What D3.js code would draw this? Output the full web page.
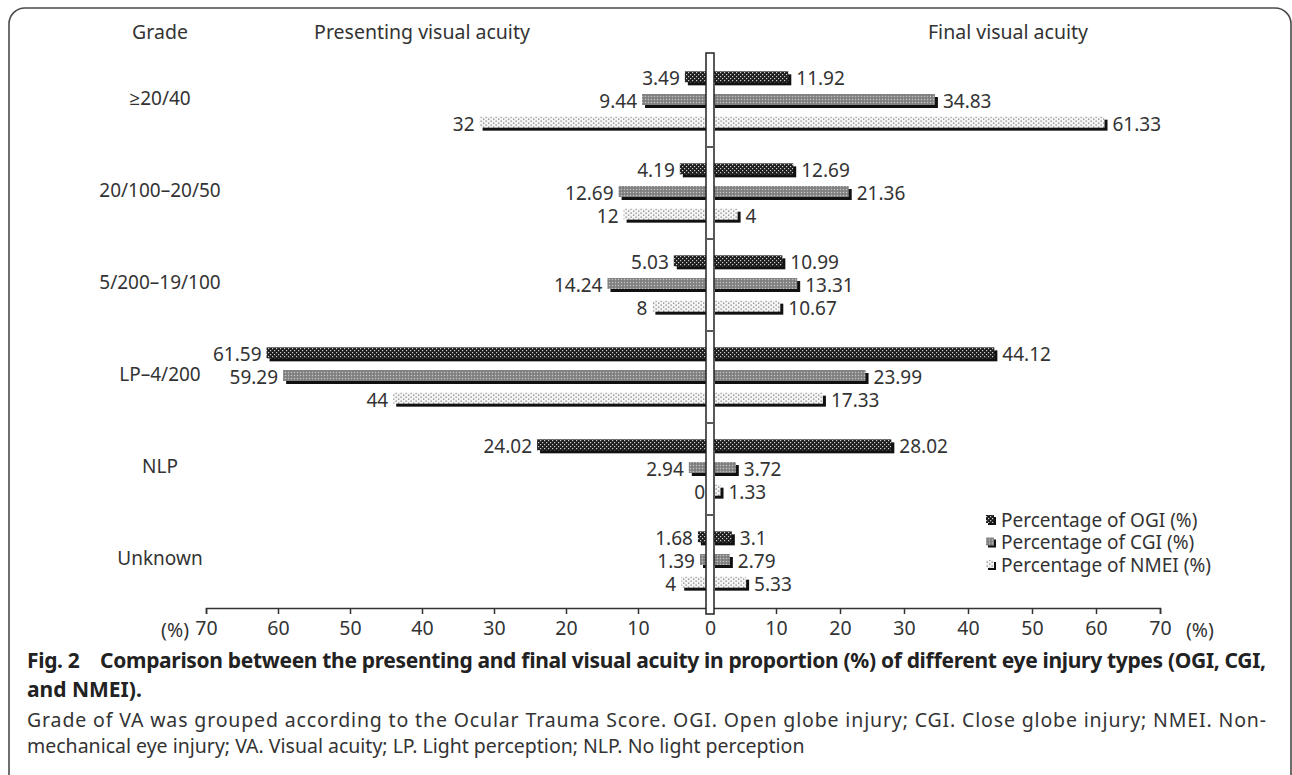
<!DOCTYPE html>
<html>
<head>
<meta charset="utf-8">
<script src="https://cdn.jsdelivr.net/npm/d3@7"></script>
<style>
  html, body { margin: 0; padding: 0; background: #fff; }
  body { width: 1292px; height: 775px; position: relative; overflow: hidden; font-family: "Noto Sans", "Open Sans", sans-serif; }
  #chart { position: absolute; left: 0; top: 0; }
</style>
</head>
<body>
<div id="chart"></div>
<script>
// Values (percent)
const categories = ["≥20/40", "20/100–20/50", "5/200–19/100", "LP–4/200", "NLP", "Unknown"]
const seriesKeys = ["OGI", "CGI", "NMEI"]
const legendLabels = ["Percentage of OGI (%)", "Percentage of CGI (%)", "Percentage of NMEI (%)"]

const presentingOGI = [3.49, 4.19, 5.03, 61.59, 24.02, 1.68]
const presentingCGI = [9.44, 12.69, 14.24, 59.29, 2.94, 1.39]
const presentingNMEI = [32, 12, 8, 44, 0, 4]

const finalOGI = [11.92, 12.69, 10.99, 44.12, 28.02, 3.1]
const finalCGI = [34.83, 21.36, 13.31, 23.99, 3.72, 2.79]
const finalNMEI = [61.33, 4, 10.67, 17.33, 1.33, 5.33]

const leftTicks = [70, 60, 50, 40, 30, 20, 10, 0]
const rightTicks = [10, 20, 30, 40, 50, 60, 70]

const captionBold = [
  "Fig. 2    Comparison between the presenting and final visual acuity in proportion (%) of different eye injury types (OGI, CGI,",
  "and NMEI)."
]
const captionNote = [
  "Grade of VA was grouped according to the Ocular Trauma Score. OGI. Open globe injury; CGI. Close globe injury; NMEI. Non-",
  "mechanical eye injury; VA. Visual acuity; LP. Light perception; NLP. No light perception"
]

const presenting = { OGI: presentingOGI, CGI: presentingCGI, NMEI: presentingNMEI }
const final = { OGI: finalOGI, CGI: finalCGI, NMEI: finalNMEI }

const W = 1292, H = 775
const axisY = 608
const fs = 19
const fontFam = "'Noto Sans', 'Open Sans', sans-serif"

const svg = d3.select("#chart").append("svg")
  .attr("width", W)
  .attr("height", H)
  .style("font-family", fontFam)

// Frame with rounded corners
svg.append("rect")
  .attr("x", 9).attr("y", 8)
  .attr("width", 1282).attr("height", 785)
  .attr("rx", 16).attr("ry", 16)
  .attr("fill", "none")
  .attr("stroke", "#4a4a4a")
  .attr("stroke-width", 1.6)

// Patterns
const defs = svg.append("defs")
const pOGI = defs.append("pattern").attr("id", "pat-OGI")
  .attr("patternUnits", "userSpaceOnUse").attr("width", 4).attr("height", 4)
pOGI.append("rect").attr("width", 4).attr("height", 4).attr("fill", "#1e1e1e")
pOGI.append("rect").attr("x", 0).attr("y", 0).attr("width", 1.2).attr("height", 1.2).attr("fill", "#cfcfcf")
pOGI.append("rect").attr("x", 2).attr("y", 2).attr("width", 1.2).attr("height", 1.2).attr("fill", "#cfcfcf")

const pCGI = defs.append("pattern").attr("id", "pat-CGI")
  .attr("patternUnits", "userSpaceOnUse").attr("width", 3).attr("height", 3)
pCGI.append("rect").attr("width", 3).attr("height", 3).attr("fill", "#8c8c8c")
pCGI.append("rect").attr("x", 0).attr("y", 0).attr("width", 1).attr("height", 1).attr("fill", "#c4c4c4")
pCGI.append("rect").attr("x", 1.5).attr("y", 1.5).attr("width", 1).attr("height", 1).attr("fill", "#5a5a5a")

const pNMEI = defs.append("pattern").attr("id", "pat-NMEI")
  .attr("patternUnits", "userSpaceOnUse").attr("width", 5).attr("height", 4)
pNMEI.append("rect").attr("width", 5).attr("height", 4).attr("fill", "#f4f4f4")
pNMEI.append("rect").attr("x", 0.5).attr("y", 0.5).attr("width", 1.3).attr("height", 1.3).attr("fill", "#8a8a8a")
pNMEI.append("rect").attr("x", 3).attr("y", 2.5).attr("width", 1.3).attr("height", 1.3).attr("fill", "#8a8a8a")

// Scales (the two halves use different px per unit, as in the figure)
const xLeft = d3.scaleLinear().domain([70, 0]).range([206, 710])
const xRight = d3.scaleLinear().domain([0, 70]).range([712, 1160])
const y = d3.scaleBand().domain(categories).range([55, 607]).padding(0)
const ySub = d3.scaleBand().domain(seriesKeys).range([-34, 34]).padding(0)
const barH = 11, shadow = 3

// Headers
const hdr = svg.append("g").attr("font-size", 19.5).attr("fill", "#333")
hdr.append("text").attr("x", 160).attr("y", 39).attr("text-anchor", "middle").text("Grade")
hdr.append("text").attr("x", 422).attr("y", 39).attr("text-anchor", "middle").text("Presenting visual acuity")
hdr.append("text").attr("x", 1008).attr("y", 39).attr("text-anchor", "middle").text("Final visual acuity")

// Category labels
svg.append("g").selectAll("text")
  .data(categories)
  .join("text")
  .attr("x", 160)
  .attr("y", d => y(d) + y.bandwidth() / 2 - 3)
  .attr("dy", "0.35em")
  .attr("text-anchor", "middle")
  .attr("font-size", fs)
  .attr("fill", "#333")
  .text(d => d)

// Build rows
const rows = []
categories.forEach((c, i) => {
  seriesKeys.forEach(k => {
    rows.push({ cat: c, key: k, side: "L", v: presenting[k][i] })
    rows.push({ cat: c, key: k, side: "R", v: final[k][i] })
  })
})
const barTop = d => y(d.cat) + y.bandwidth() / 2 + ySub(d.key) + (ySub.bandwidth() - barH - shadow) / 2
const x0 = d => d.side === "L" ? xLeft(d.v) : xRight(0)
const x1 = d => d.side === "L" ? xLeft(0) : xRight(d.v)

const bars = svg.append("g")
bars.selectAll(".shadow")
  .data(rows.filter(d => d.v > 0))
  .join("rect")
  .attr("class", "shadow")
  .attr("x", d => x0(d) + shadow)
  .attr("y", d => barTop(d) + shadow)
  .attr("width", d => x1(d) - x0(d))
  .attr("height", barH)
  .attr("fill", "#111")
bars.selectAll(".face")
  .data(rows.filter(d => d.v > 0))
  .join("rect")
  .attr("class", "face")
  .attr("x", x0)
  .attr("y", barTop)
  .attr("width", d => x1(d) - x0(d))
  .attr("height", barH)
  .attr("fill", d => `url(#pat-${d.key})`)

// value labels
svg.append("g").selectAll("text")
  .data(rows)
  .join("text")
  .attr("x", d => d.side === "L" ? x0(d) - 5 : x1(d) + shadow + 5)
  .attr("y", d => barTop(d) + (barH + shadow) / 2)
  .attr("dy", "0.36em")
  .attr("text-anchor", d => d.side === "L" ? "end" : "start")
  .attr("font-size", fs)
  .attr("fill", "#333")
  .text(d => d.v)

// Axes
const axL = svg.append("g").attr("transform", `translate(0,${axisY})`)
  .call(d3.axisBottom(xLeft).tickValues(leftTicks).tickFormat(d3.format("d")).tickSizeOuter(0).tickSize(6).tickPadding(7))
const axR = svg.append("g").attr("transform", `translate(0,${axisY})`)
  .call(d3.axisBottom(xRight).tickValues(rightTicks).tickFormat(d3.format("d")).tickSizeOuter(0).tickSize(6).tickPadding(7))
;[axL, axR].forEach(a => {
  a.select(".domain").attr("stroke", "#333").attr("stroke-width", 1.5)
  a.selectAll(".tick line").attr("stroke", "#333").attr("stroke-width", 1.5)
  a.selectAll(".tick text").attr("font-size", 19.5).attr("fill", "#333").attr("font-family", fontFam)
})
svg.append("text").attr("x", 189).attr("y", 637).attr("text-anchor", "end")
  .attr("font-size", 19.5).attr("fill", "#333").text("(%)")
svg.append("text").attr("x", 1186).attr("y", 637).attr("text-anchor", "start")
  .attr("font-size", 19.5).attr("fill", "#333").text("(%)")

// Centre divider with boundary ticks
svg.append("rect")
  .attr("x", 706).attr("y", 53)
  .attr("width", 8).attr("height", axisY + 6 - 53)
  .attr("fill", "#fff").attr("stroke", "#222").attr("stroke-width", 1.5)
svg.append("g").selectAll("line")
  .data(categories.slice(1))
  .join("line")
  .attr("x1", 707).attr("x2", 713)
  .attr("y1", d => y(d)).attr("y2", d => y(d))
  .attr("stroke", "#222").attr("stroke-width", 1.5)

// Legend
const lg = svg.append("g").attr("transform", "translate(986,520)")
const li = lg.selectAll("g")
  .data(seriesKeys)
  .join("g")
  .attr("transform", (d, i) => `translate(0,${i * 22.5})`)
li.append("rect").attr("x", 2).attr("y", -3).attr("width", 8).attr("height", 8).attr("fill", "#111")
li.append("rect").attr("x", 0).attr("y", -5).attr("width", 8).attr("height", 8).attr("fill", d => `url(#pat-${d})`)
li.append("text")
  .attr("x", 15).attr("y", 0).attr("dy", "0.36em")
  .attr("font-size", fs).attr("fill", "#333")
  .text((d, i) => legendLabels[i])

// Caption (first line of each paragraph justified to full width)
const capW = 1239
const cap = svg.append("g").attr("fill", "#222")
cap.append("text").attr("x", 27).attr("y", 668)
  .attr("font-size", 21).attr("font-weight", 700)
  .attr("textLength", capW).attr("lengthAdjust", "spacing")
  .style("white-space", "pre")
  .text(captionBold[0])
cap.append("text").attr("x", 27).attr("y", 697)
  .attr("font-size", 21).attr("font-weight", 700)
  .text(captionBold[1])
cap.append("text").attr("x", 27).attr("y", 727)
  .attr("font-size", 19.5).attr("fill", "#333")
  .attr("textLength", capW).attr("lengthAdjust", "spacing")
  .text(captionNote[0])
cap.append("text").attr("x", 27).attr("y", 753)
  .attr("font-size", 19.5).attr("fill", "#333")
  .text(captionNote[1])
</script>
</body>
</html>
